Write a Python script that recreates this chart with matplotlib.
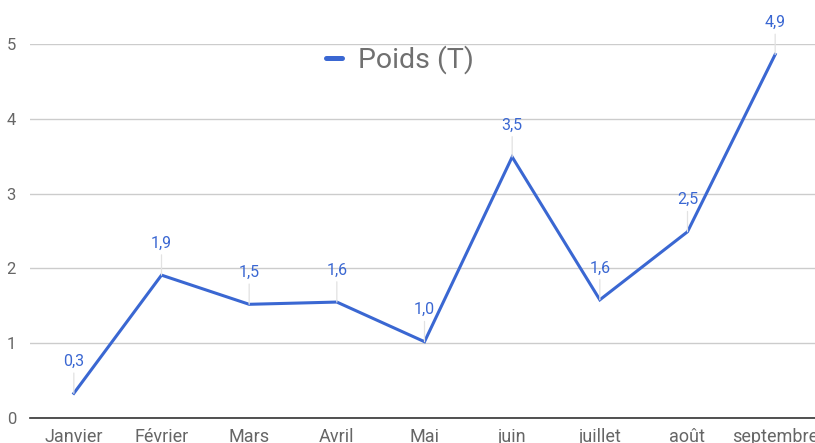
import matplotlib
matplotlib.use("Agg")
import matplotlib.pyplot as plt

plt.rcParams['font.family'] = ['Roboto', 'DejaVu Sans']

# données
mois = ["Janvier", "Février", "Mars", "Avril", "Mai", "juin", "juillet", "août", "septembre"]
poids = [0.33, 1.91, 1.52, 1.55, 1.02, 3.49, 1.58, 2.49, 4.86]
etiquettes = ["0,3", "1,9", "1,5", "1,6", "1,0", "3,5", "1,6", "2,5", "4,9"]

bleu = "#3a67d2"
gris = "#666666"

fig = plt.figure(figsize=(8.15, 4.43), dpi=100)
# l'axe déborde à droite comme sur la capture
ax = fig.add_axes([30 / 815, 25 / 443, (819 - 30) / 815, (418 - 44) / 443])

x = list(range(len(mois)))
ax.plot(x, poids, color=bleu, lw=2.2, label="Poids (T)", solid_joinstyle="miter", zorder=3)

for xi, yi, txt in zip(x, poids, etiquettes):
    ax.annotate(txt, xy=(xi, yi), xytext=(0, 23), textcoords="offset points",
                ha="center", va="center", fontsize=11.5, color=bleu,
                annotation_clip=False,
                arrowprops=dict(arrowstyle="-", color="#e2e2e2", lw=0.9,
                                shrinkA=1, shrinkB=0))

ax.set_xlim(-0.5, len(mois) - 0.5)
ax.set_ylim(0, 5)
ax.set_yticks([0, 1, 2, 3, 4, 5])
ax.set_xticks(x)
ax.set_xticklabels(mois)

ax.grid(axis="y", color="#cccccc", lw=1)
ax.set_axisbelow(True)
for s in ["top", "right", "left"]:
    ax.spines[s].set_visible(False)
ax.spines["bottom"].set_color("#333333")
ax.spines["bottom"].set_linewidth(1.2)

ax.tick_params(axis="both", length=0, labelsize=12, labelcolor=gris)
ax.tick_params(axis="y", pad=10)
ax.tick_params(axis="x", pad=7.5, labelsize=13)

fig.legend(loc="center", bbox_to_anchor=(400 / 815, 1 - 60 / 443), frameon=False,
           fontsize=20.5, handlelength=0.55, handletextpad=0.55,
           labelcolor="#707070")
leg = fig.legends[0]
for h in leg.get_lines():
    h.set_linewidth(3.6)
    h.set_solid_capstyle("round")

fig.savefig("out.png", dpi=100)
